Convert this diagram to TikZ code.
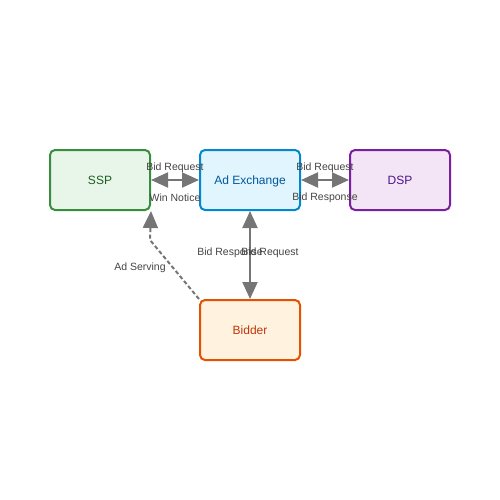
\documentclass[tikz,border=0pt]{standalone}
\usepackage{fontspec}
\setmainfont{Liberation Sans}
\usetikzlibrary{arrows.meta}
\definecolor{arrgray}{HTML}{757575}
\definecolor{labgray}{HTML}{444444}
\tikzset{
  box/.style={draw,line width=2pt,rounded corners=5pt,minimum width=100pt,minimum height=60pt,inner sep=0pt,text depth=0pt,font=\fontsize{12}{14}\selectfont},
  lab/.style={font=\fontsize{10.5}{12}\selectfont,text=labgray,inner sep=0pt,yshift=-1.5pt},
  link/.style={arrgray,line width=2pt,<->},
}
\begin{document}
\begin{tikzpicture}[>={Triangle[length=17pt,width=15pt]},x=1pt,y=-1pt]
\useasboundingbox (0,0) rectangle (500,500);

\node[box,draw={rgb,255:red,56;green,142;blue,60},fill={rgb,255:red,232;green,245;blue,233},text={rgb,255:red,27;green,94;blue,32}](ssp) at (100,180){SSP};
\node[box,draw={rgb,255:red,2;green,136;blue,209},fill={rgb,255:red,225;green,245;blue,254},text={rgb,255:red,1;green,87;blue,155}](adx) at (250,180){Ad Exchange};
\node[box,draw={rgb,255:red,123;green,31;blue,162},fill={rgb,255:red,243;green,229;blue,245},text={rgb,255:red,74;green,20;blue,140}](dsp) at (400,180){DSP};
\node[box,draw={rgb,255:red,230;green,81;blue,0},fill={rgb,255:red,255;green,243;blue,224},text={rgb,255:red,191;green,54;blue,12}](bid) at (250,330){Bidder};

\draw[link](ssp.east)--(adx.west);
\draw[link](adx.east)--(dsp.west);
\draw[link](adx.south)--(bid.north);
\coordinate (bend) at (150,240);
\draw[arrgray,line width=2pt,dash pattern=on 4pt off 2.5pt,->](bid.north west)--(bend)--(ssp.south east);

\node[lab](l1) at (175,166){Bid Request};
\node[lab](l2) at (175,196){Win Notice};
\node[lab](l3) at (325,166){Bid Request};
\node[lab](l4) at (325,196){Bid Response};
\node[lab](l5) at (230,251){Bid Response};
\node[lab](l6) at (270,251){Bid Request};
\node[lab](l7) at (140,266){Ad Serving};

\end{tikzpicture}
\end{document}
